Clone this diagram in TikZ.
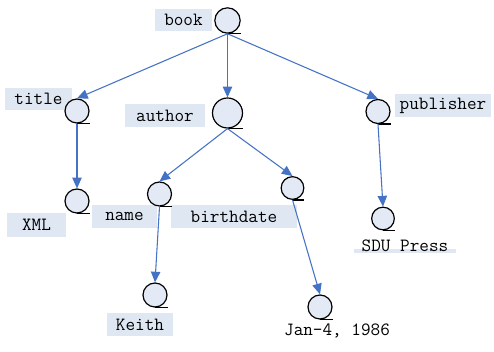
\documentclass[tikz,border=0pt]{standalone}
\usepackage{xcolor}
\usepackage{tikz}
\usetikzlibrary{arrows.meta}

\definecolor{nodefill}{HTML}{E4EAF5}
\definecolor{tagfill}{HTML}{DFE7F3}
\definecolor{edgeblue}{HTML}{4472C4}

\begin{document}
\begin{tikzpicture}[x=0.75pt,y=-0.75pt,
        elem/.style={circle,draw=black,line width=0.9pt,fill=nodefill,inner sep=0pt,minimum size=18pt},
        tag/.style={fill=tagfill,inner sep=0pt,minimum height=17pt,font=\ttfamily\fontsize{14}{16}\selectfont},
        edge/.style={draw=edgeblue,line width=0.8pt,-{Triangle[length=8pt,width=7pt]}}]
        \useasboundingbox (0,0) rectangle (494,352);

        % labels
        \node[tag,minimum width=43pt] (booktag) at (183.5,20) {book};
        \node[tag,minimum width=50pt] (titletag) at (38.5,99) {title};
        \node[tag,minimum width=60pt] (authortag) at (165,115.5) {author};
        \node[tag,minimum width=72pt] (publishertag) at (443,105.5) {publisher};
        \node[tag,minimum width=44pt,minimum height=18pt] (xmltag) at (36.5,225) {XML};
        \node[tag,minimum width=49pt] (nametag) at (124.5,216.5) {name};
        \node[tag,minimum width=94.5pt] (birthdatetag) at (234,216.5) {birthdate};
        \node[tag,minimum width=49.5pt] (keithtag) at (140,324.5) {Keith};
        \fill[tagfill] (354,249) rectangle (456,253);
        \node[tag,fill=none] (sdutag) at (405,246) {SDU Press};
        \node[tag,fill=none] (datetag) at (337,331) {Jan-4, 1986};

        % elements
        \node[elem,minimum size=19pt] (book) at (227.5,20.5) {};
        \node[elem] (title) at (77,111) {};
        \node[elem,minimum size=22.5pt] (author) at (227.5,113) {};
        \node[elem] (publisher) at (378,111.5) {};
        \node[elem] (xml) at (77,201) {};
        \node[elem] (name) at (159.5,194) {};
        \node[elem,minimum size=17pt] (birthdate) at (292.5,188) {};
        \node[elem,minimum size=17pt] (sdu) at (383,218.5) {};
        \node[elem] (keith) at (155,295) {};
        \node[elem] (date) at (320,307) {};

        \foreach \n in {book,title,author,publisher,xml,name,birthdate,sdu,keith,date}
            \draw[line width=0.9pt] (\n.south) -- (\n.south -| \n.east);

        \draw[edge] (book.south) -- (title.north);
        \draw[edge] (book.south) -- (author.north);
        \draw[edge] (book.south) -- (publisher.north);
        \draw[edge] (title.south) -- (xml.north);
        \draw[edge] (author.south) -- (name.north);
        \draw[edge] (author.south) -- (birthdate.north);
        \draw[edge] (publisher.south) -- (sdu.north);
        \draw[edge] (name.south) -- (keith.north);
        \draw[edge] (birthdate.south) -- (date.north);
    \end{tikzpicture}
\end{document}
